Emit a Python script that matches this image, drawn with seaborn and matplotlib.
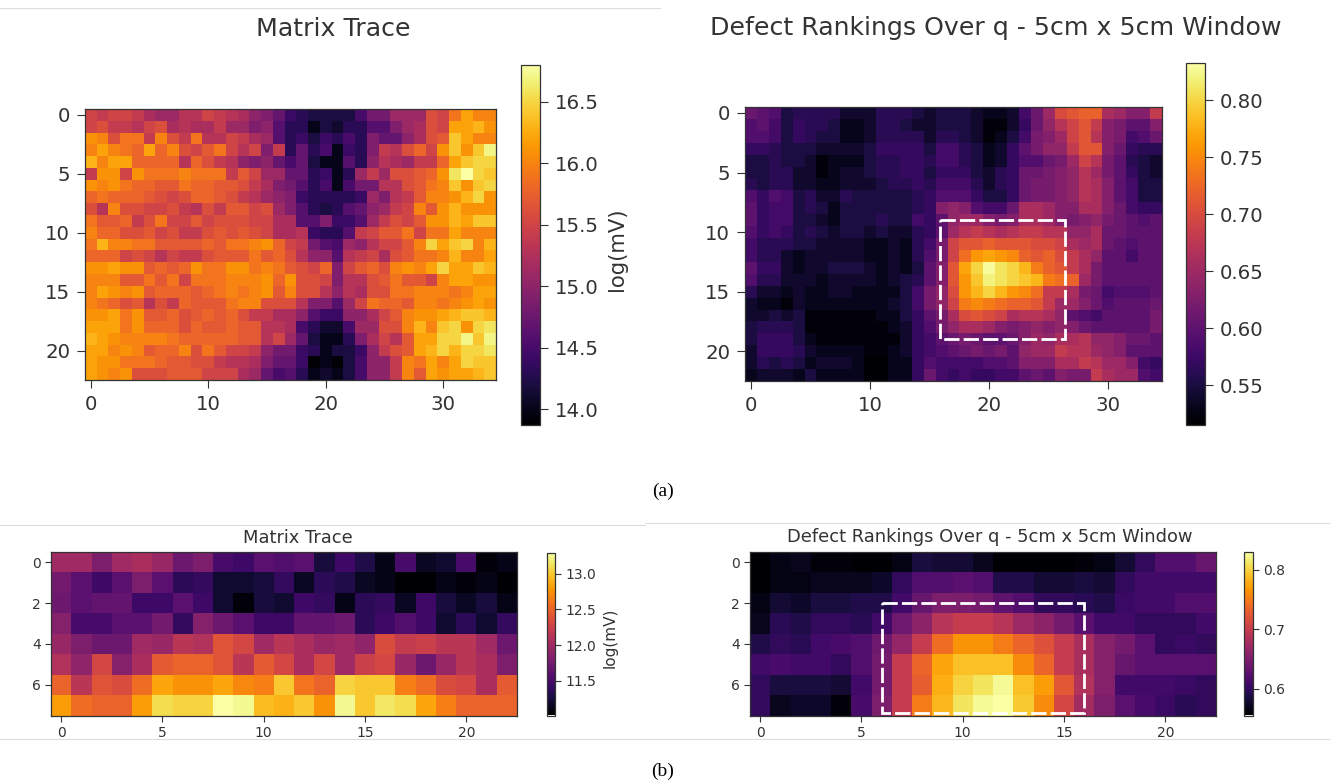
import numpy as np
import matplotlib
matplotlib.use('Agg')
import matplotlib.pyplot as plt
from matplotlib.lines import Line2D
from matplotlib.patches import Rectangle
import seaborn as sns

# values
trace_a = [
    [15.5,15.4,15.5,15.5,15.4,15.2,15.1,15.1,15.3,15.3,15.5,15.4,15.3,15.2,15.0,14.9,14.7,14.4,14.3,14.2,14.2,14.2,14.2,14.5,14.8,14.8,15.1,15.1,15.1,15.6,15.5,15.9,16.2,16.0,16.0],
    [15.5,15.6,15.4,15.4,15.3,15.5,15.6,15.2,15.3,15.2,15.2,15.4,15.1,15.1,14.9,15.0,14.6,14.3,14.3,14.0,14.2,14.1,14.3,14.3,14.6,14.6,14.9,15.1,15.2,15.6,15.5,16.2,16.2,16.3,16.1],
    [16.1,16.0,15.6,15.9,15.9,15.4,16.0,15.6,15.4,15.9,15.3,15.3,15.5,15.4,15.2,15.1,14.6,14.3,14.4,14.2,14.4,14.3,14.5,14.3,14.9,14.7,14.7,15.0,15.2,15.6,15.7,16.4,16.2,16.0,16.0],
    [16.0,16.2,16.0,15.9,15.8,16.2,15.8,16.0,15.6,15.5,15.7,15.9,15.5,15.3,15.5,14.9,15.4,14.3,14.7,14.3,14.5,14.0,14.4,14.3,14.9,15.4,15.3,15.6,15.8,15.5,16.1,16.4,16.1,16.4,16.7],
    [16.3,16.0,16.2,16.2,15.8,15.8,15.8,15.8,15.3,15.8,15.6,15.4,15.3,15.0,14.9,15.0,14.7,14.5,14.7,14.2,14.0,14.0,14.6,14.3,15.0,15.3,15.2,15.1,15.4,15.4,15.8,16.2,16.4,16.5,16.5],
    [15.4,16.1,16.1,15.5,16.1,15.9,15.9,15.9,16.0,15.9,15.9,15.9,15.4,15.7,15.5,15.1,15.1,14.7,14.7,14.3,14.4,14.0,14.3,15.1,15.4,15.1,15.6,15.6,15.7,15.8,16.1,16.6,16.8,16.5,16.4],
    [16.1,16.0,16.1,15.9,15.8,15.8,15.7,15.7,15.9,15.8,15.8,15.7,15.7,15.6,15.4,15.2,14.9,14.8,14.6,14.3,14.5,14.0,14.5,14.8,14.8,15.3,15.3,15.6,15.7,15.9,16.0,16.4,16.1,16.4,16.5],
    [15.8,15.9,15.8,15.8,15.8,15.7,15.6,15.5,15.6,15.8,15.8,15.7,15.6,15.4,15.3,15.1,15.0,14.9,14.4,14.3,14.3,14.3,14.3,14.4,15.1,14.9,15.3,15.4,15.7,16.0,16.0,16.1,16.3,16.5,16.1],
    [15.6,15.3,16.0,15.6,15.6,15.5,15.5,15.6,15.4,15.3,15.6,15.4,15.7,15.7,15.5,15.6,15.1,14.9,14.6,14.3,14.2,14.3,14.6,14.7,15.0,15.1,15.4,15.5,16.0,15.7,16.1,16.3,16.1,16.1,16.1],
    [15.9,15.7,15.7,15.8,15.4,15.6,15.9,15.5,15.5,15.7,15.5,15.6,15.6,15.6,15.5,15.5,15.2,15.2,14.6,14.6,14.9,14.4,14.4,14.6,15.1,15.4,15.6,15.5,15.7,16.1,16.1,16.3,16.2,16.4,16.4],
    [16.0,15.8,15.8,15.6,15.6,15.7,15.5,15.6,15.4,15.4,15.6,15.7,15.6,15.7,15.6,15.5,15.2,15.2,15.3,14.4,14.3,14.3,14.6,15.4,15.5,15.7,15.7,15.9,15.5,15.9,15.9,16.2,16.0,16.0,16.0],
    [15.9,16.3,16.0,16.0,15.9,15.9,15.7,15.7,15.7,15.7,15.8,15.7,15.9,15.9,16.0,16.1,15.8,15.5,15.4,14.8,14.6,14.5,15.1,15.0,15.3,15.5,15.5,15.7,16.0,16.5,16.2,16.4,16.5,16.0,16.3],
    [15.8,15.8,15.8,15.5,15.6,15.5,15.3,15.5,15.4,15.4,15.6,15.7,15.7,15.7,15.9,15.7,15.8,15.6,15.3,15.0,15.0,14.6,15.3,15.4,15.5,15.2,15.6,15.7,15.9,15.9,16.0,16.3,16.0,16.0,16.2],
    [16.1,16.1,16.2,16.1,16.1,15.7,15.8,15.7,15.8,16.1,15.9,15.9,16.1,16.1,15.9,16.0,15.9,15.7,15.6,15.5,15.8,14.9,15.5,15.7,15.8,15.6,16.0,16.1,16.0,16.2,16.5,16.2,16.2,16.4,16.3],
    [16.0,16.0,16.0,15.7,15.7,15.9,15.7,15.9,15.5,15.9,15.9,15.9,16.0,16.0,16.0,16.1,15.8,16.1,15.6,15.6,15.5,14.9,15.3,15.3,15.6,15.7,15.9,15.7,15.7,15.5,16.0,16.2,16.2,16.1,16.1],
    [16.0,16.2,16.1,16.0,16.1,15.7,15.8,15.8,15.8,15.7,15.8,15.9,16.0,15.9,16.0,16.1,15.7,16.0,15.6,15.6,15.3,15.0,15.3,15.2,15.6,15.6,15.9,15.9,16.0,16.0,16.0,15.9,16.0,16.2,16.2],
    [16.0,15.9,15.8,15.6,15.7,15.3,15.6,15.4,15.8,15.7,15.7,15.7,15.9,16.0,16.0,15.6,15.6,15.6,15.3,14.9,14.9,14.6,15.1,15.5,15.9,15.8,15.8,15.7,16.0,16.0,15.9,16.0,16.1,16.2,16.1],
    [16.1,16.1,16.2,15.9,16.1,15.7,15.7,15.8,15.6,15.7,15.8,15.7,15.8,15.6,15.4,15.4,15.2,15.2,15.0,14.6,14.4,14.4,15.0,15.0,15.2,15.5,15.7,16.0,16.1,16.1,16.2,16.3,16.4,16.4,16.3],
    [16.2,16.2,16.2,15.9,16.1,15.8,15.8,15.8,15.6,15.8,15.7,15.7,15.8,15.7,15.7,15.3,15.3,15.2,14.5,14.3,14.1,14.1,14.5,15.1,15.1,15.6,15.6,16.0,16.3,16.0,16.4,16.5,16.1,16.5,16.6],
    [16.3,16.2,16.1,16.0,16.0,16.0,16.0,15.9,15.8,15.8,15.8,15.8,15.8,15.7,15.7,15.3,15.5,15.1,14.7,14.2,14.0,14.0,14.3,14.9,15.2,15.5,15.3,15.7,16.2,16.2,16.5,16.5,16.7,16.4,16.7],
    [16.2,16.2,16.0,16.1,16.0,15.7,15.8,15.8,16.0,15.6,15.9,15.7,15.5,15.5,15.4,15.0,14.8,14.8,14.4,14.3,14.0,14.2,14.2,14.4,15.0,15.4,15.6,15.7,16.2,16.3,16.5,16.3,16.5,16.5,16.6],
    [16.2,16.1,16.1,15.9,15.9,15.9,15.8,15.7,15.7,15.6,15.6,15.4,15.3,15.3,15.2,14.9,14.7,14.7,14.4,13.9,14.0,13.9,14.2,14.5,15.0,15.0,15.4,16.0,15.9,16.2,16.0,16.2,16.5,16.4,16.4],
    [16.2,16.1,16.0,16.1,15.6,15.6,15.6,15.7,15.7,15.7,15.5,15.5,15.5,15.2,15.1,14.7,14.5,14.6,14.3,14.0,14.1,14.0,14.2,14.5,15.0,15.0,15.4,16.0,15.7,16.2,16.1,16.2,16.2,16.3,16.4],
]
rank_a = [
    [.61,.60,.59,.55,.56,.56,.56,.56,.54,.54,.54,.56,.56,.56,.55,.54,.55,.55,.55,.54,.53,.53,.54,.58,.61,.65,.70,.71,.72,.72,.66,.65,.63,.63,.68],
    [.59,.60,.58,.55,.57,.56,.56,.55,.53,.53,.54,.56,.56,.55,.54,.54,.55,.55,.55,.54,.52,.52,.54,.57,.61,.64,.67,.69,.71,.68,.63,.62,.60,.60,.63],
    [.59,.59,.58,.55,.57,.56,.55,.55,.53,.53,.54,.56,.56,.56,.56,.54,.56,.56,.55,.54,.52,.53,.55,.58,.62,.63,.65,.69,.71,.67,.63,.62,.58,.59,.61],
    [.57,.57,.56,.55,.55,.55,.54,.54,.54,.54,.55,.57,.57,.57,.57,.55,.58,.58,.56,.55,.53,.54,.57,.60,.62,.64,.64,.68,.71,.71,.63,.61,.57,.56,.56],
    [.55,.55,.56,.55,.55,.54,.52,.53,.53,.53,.55,.56,.56,.57,.57,.56,.58,.58,.56,.55,.53,.54,.57,.59,.59,.61,.62,.65,.69,.67,.62,.60,.56,.55,.54],
    [.55,.55,.56,.56,.54,.54,.52,.53,.54,.54,.55,.56,.56,.57,.57,.55,.57,.57,.57,.55,.54,.56,.57,.61,.61,.62,.63,.64,.67,.65,.62,.60,.57,.55,.54],
    [.56,.55,.56,.56,.54,.54,.53,.53,.54,.54,.54,.55,.56,.56,.57,.56,.58,.58,.58,.56,.54,.56,.57,.61,.62,.62,.63,.64,.67,.66,.63,.60,.58,.55,.55],
    [.59,.57,.59,.58,.55,.56,.54,.54,.56,.55,.55,.55,.55,.55,.56,.57,.59,.59,.59,.57,.55,.55,.57,.61,.62,.62,.63,.64,.67,.66,.63,.60,.58,.55,.55],
    [.60,.57,.58,.58,.55,.56,.55,.53,.55,.55,.55,.55,.55,.55,.56,.57,.63,.64,.63,.59,.58,.58,.61,.66,.66,.65,.63,.63,.66,.66,.63,.61,.58,.57,.57],
    [.60,.57,.58,.58,.55,.55,.54,.53,.55,.55,.55,.56,.55,.55,.58,.57,.60,.64,.65,.65,.63,.62,.63,.66,.66,.65,.63,.62,.63,.64,.62,.61,.60,.59,.60],
    [.59,.57,.58,.57,.55,.56,.55,.54,.55,.55,.54,.55,.54,.54,.56,.57,.60,.65,.67,.68,.67,.66,.67,.68,.68,.67,.67,.64,.64,.66,.61,.61,.60,.60,.60],
    [.58,.56,.56,.56,.55,.55,.54,.54,.54,.54,.53,.53,.54,.53,.56,.58,.62,.69,.71,.71,.72,.71,.71,.71,.70,.70,.69,.66,.65,.66,.61,.60,.59,.60,.60],
    [.58,.56,.56,.54,.53,.54,.54,.54,.54,.54,.53,.53,.54,.53,.56,.59,.62,.69,.73,.76,.77,.76,.75,.72,.71,.72,.70,.68,.66,.64,.60,.60,.58,.60,.60],
    [.60,.57,.57,.54,.53,.54,.54,.55,.55,.55,.54,.53,.54,.53,.55,.60,.63,.71,.77,.80,.83,.81,.80,.78,.74,.72,.71,.68,.66,.62,.60,.60,.60,.60,.60],
    [.59,.56,.56,.54,.54,.54,.53,.54,.54,.54,.54,.53,.54,.55,.56,.60,.63,.71,.76,.79,.82,.81,.80,.79,.78,.74,.73,.72,.65,.62,.60,.60,.60,.60,.60],
    [.56,.54,.54,.53,.54,.53,.53,.54,.54,.53,.53,.53,.53,.55,.58,.62,.64,.70,.76,.78,.80,.78,.76,.75,.73,.68,.68,.66,.62,.61,.58,.59,.59,.59,.60],
    [.54,.53,.53,.52,.54,.53,.53,.53,.53,.53,.53,.53,.54,.55,.58,.62,.64,.69,.74,.75,.74,.73,.72,.72,.71,.68,.65,.65,.63,.61,.59,.60,.60,.60,.61],
    [.54,.54,.55,.54,.55,.52,.52,.52,.52,.52,.52,.53,.53,.55,.57,.60,.62,.66,.70,.71,.70,.69,.66,.67,.67,.66,.64,.60,.59,.58,.60,.60,.60,.60,.62],
    [.55,.56,.56,.56,.55,.52,.52,.52,.52,.52,.52,.52,.53,.54,.57,.59,.62,.64,.66,.66,.65,.63,.62,.63,.64,.63,.64,.63,.61,.60,.60,.60,.60,.60,.62],
    [.55,.57,.57,.57,.55,.53,.52,.52,.52,.52,.52,.52,.52,.54,.57,.58,.60,.61,.62,.61,.60,.60,.61,.63,.65,.64,.66,.66,.67,.64,.64,.63,.61,.61,.60],
    [.54,.57,.57,.57,.56,.54,.53,.53,.53,.53,.52,.52,.53,.54,.57,.58,.59,.60,.61,.62,.61,.62,.60,.64,.65,.65,.68,.67,.67,.65,.64,.63,.60,.60,.60],
    [.54,.56,.55,.56,.55,.53,.54,.54,.54,.53,.51,.51,.53,.53,.57,.59,.58,.58,.58,.58,.59,.59,.60,.63,.63,.63,.66,.66,.68,.67,.65,.65,.63,.58,.57],
    [.53,.54,.54,.54,.53,.55,.53,.53,.53,.53,.51,.51,.53,.53,.57,.61,.58,.57,.58,.57,.57,.58,.58,.60,.61,.60,.63,.62,.62,.68,.66,.65,.65,.59,.58],
]
trace_b = [
    [12.0,12.0,11.8,12.0,12.05,11.95,11.7,11.8,11.5,11.45,11.6,11.55,11.6,11.25,11.45,11.3,11.1,11.5,11.15,11.2,11.5,11.05,11.1],
    [11.75,11.6,11.45,11.6,11.8,11.6,11.35,11.4,11.2,11.2,11.25,11.4,11.15,11.35,11.3,11.15,11.1,11.0,11.0,11.1,11.05,11.1,11.0],
    [11.7,11.6,11.65,11.65,11.45,11.45,11.6,11.45,11.2,11.05,11.25,11.2,11.45,11.4,11.1,11.35,11.4,11.15,11.45,11.25,11.15,11.25,11.1],
    [11.85,11.5,11.5,11.6,11.6,11.75,11.4,11.85,11.7,11.6,11.45,11.45,11.65,11.65,11.7,11.35,11.45,11.55,11.45,11.2,11.35,11.2,11.4],
    [11.95,11.8,11.7,11.7,12.0,11.95,12.15,12.1,12.4,12.3,12.0,12.15,12.05,11.95,12.0,11.9,12.35,12.2,12.25,12.15,12.15,12.0,11.7],
    [12.1,11.9,12.3,11.85,12.05,12.45,12.5,12.5,12.4,12.15,12.45,12.3,12.05,12.3,12.0,12.25,12.3,11.95,11.7,11.95,12.15,12.05,11.8],
    [12.5,12.15,12.4,12.35,12.55,12.85,12.75,12.75,12.85,12.7,12.65,13.0,12.6,12.5,13.05,13.0,13.0,12.65,12.55,12.35,12.3,12.05,12.45],
    [12.8,12.55,12.5,12.5,12.8,13.1,13.05,13.05,13.3,13.25,12.95,12.9,13.0,12.75,13.25,13.0,13.15,13.1,12.85,12.65,12.5,12.5,12.5],
]
rank_b = [
    [.555,.565,.57,.56,.56,.555,.555,.565,.585,.58,.58,.57,.555,.555,.555,.555,.56,.565,.58,.60,.62,.62,.635],
    [.555,.565,.565,.57,.57,.57,.575,.60,.62,.62,.625,.62,.59,.59,.58,.58,.585,.58,.60,.61,.61,.61,.61],
    [.565,.58,.575,.585,.585,.59,.59,.61,.635,.65,.65,.645,.63,.62,.60,.60,.595,.59,.605,.61,.61,.62,.62],
    [.57,.595,.59,.60,.60,.595,.61,.64,.66,.69,.70,.70,.69,.67,.66,.645,.625,.61,.61,.60,.60,.60,.61],
    [.59,.60,.595,.61,.615,.62,.64,.665,.70,.74,.765,.765,.75,.735,.72,.70,.68,.655,.645,.625,.60,.605,.60],
    [.61,.615,.61,.61,.60,.62,.645,.70,.735,.775,.79,.79,.79,.76,.735,.70,.68,.655,.635,.625,.625,.625,.625],
    [.60,.585,.585,.585,.58,.61,.645,.70,.73,.78,.80,.81,.825,.79,.77,.725,.685,.655,.61,.61,.61,.605,.60],
    [.60,.57,.575,.575,.56,.615,.65,.70,.75,.785,.81,.825,.83,.795,.76,.71,.675,.65,.625,.615,.605,.595,.60],
]

W, H = 1330, 781
sns.set_theme(style='white')
plt.rcParams['font.family'] = ['DejaVu Sans']
fig = plt.figure(figsize=(W / 100, H / 100), dpi=100, facecolor='white')

def box(left, top, right, bottom):
    # pixel box to figure fractions
    return [left / W, 1 - bottom / H, (right - left) / W, (bottom - top) / H]

def panel(data, ax_box, cax_box, vmin, vmax, title, title_pos, title_size, tick_size,
          xticks, yticks, cticks, cfmt, label=None, label_size=10, label_y=0.5, label_pad=3, rect=None, lw=2):
    ax = fig.add_axes(box(*ax_box))
    cax = fig.add_axes(box(*cax_box))
    sns.heatmap(np.array(data), ax=ax, cbar_ax=cax, cmap='inferno', vmin=vmin, vmax=vmax,
                xticklabels=False, yticklabels=False)
    ax.set_xticks(np.array(xticks) + 0.5, labels=[str(t) for t in xticks], rotation=0)
    ax.set_yticks(np.array(yticks) + 0.5, labels=[str(t) for t in yticks], rotation=0)
    ax.tick_params(left=True, bottom=True, labelsize=tick_size, colors='#333333',
                   length=tick_size * 0.4, width=0.8, pad=tick_size * 0.35)
    for s in ax.spines.values():
        s.set_visible(True)
        s.set_color('#333333')
        s.set_linewidth(0.9)
    cb = ax.collections[0].colorbar
    cb.set_ticks(cticks, labels=[cfmt % t for t in cticks])
    cb.outline.set_visible(True)
    cb.outline.set_linewidth(0.9)
    cb.outline.set_edgecolor('#333333')
    cax.tick_params(right=True, labelsize=tick_size, colors='#333333',
                    length=tick_size * 0.4, width=0.8, pad=tick_size * 0.35)
    if label:
        cb.set_label(label, fontsize=label_size, color='#333333', labelpad=label_pad, y=label_y)
    if rect:
        ax.add_patch(Rectangle((rect[0], rect[1]), rect[2], rect[3], fill=False, edgecolor='white',
                               linewidth=lw, linestyle=(0, (5.5, 1.5)), zorder=5, clip_on=False))
    fig.text(title_pos[0] / W, 1 - title_pos[1] / H, title, ha='center', va='center',
             fontsize=title_size, color='#333333')

panel(trace_a, (85, 109, 496, 380), (521, 65, 540, 425), 13.87, 16.8, 'Matrix Trace', (333, 29), 18.2, 14.2,
      [0, 10, 20, 30], [0, 5, 10, 15, 20], [14, 14.5, 15, 15.5, 16, 16.5], '%.1f',
      label='log(mV)', label_size=15.2, label_y=0.489, label_pad=6)
panel(rank_a, (745, 107, 1162, 381), (1186, 63, 1205, 425), 0.515, 0.8325,
      'Defect Rankings Over q - 5cm x 5cm Window', (996, 28), 18.2, 14.2,
      [0, 10, 20, 30], [0, 5, 10, 15, 20], [.55, .60, .65, .70, .75, .80], '%.2f',
      rect=(16.4, 9.5, 10.5, 10))
panel(trace_b, (51, 552, 517, 715.5), (547, 552.5, 555, 715.5), 11.01, 13.3, 'Matrix Trace', (298, 538), 12.9, 10,
      [0, 5, 10, 15, 20], [0, 2, 4, 6], [11.5, 12, 12.5, 13], '%.1f',
      label='log(mV)', label_size=11, label_y=0.478, label_pad=4.5)
panel(rank_b, (750, 552, 1216, 715.5), (1244, 552, 1253, 715.5), 0.555, 0.83,
      'Defect Rankings Over q - 5cm x 5cm Window', (990, 537), 12.9, 10,
      [0, 5, 10, 15, 20], [0, 2, 4, 6], [.6, .7, .8], '%.1f',
      rect=(6.5, 2.5, 10, 5.4))

# sub captions and the thin grey rules from the source document
fig.text(663 / W, 1 - 491 / H, '(a)', ha='center', va='center', fontsize=14, family='Liberation Serif', color='black')
fig.text(663 / W, 1 - 771 / H, '(b)', ha='center', va='center', fontsize=14, family='Liberation Serif', color='black')
for x0, x1, y in [(0, 660, 8), (0, 645, 525), (645, 1330, 523), (0, 1330, 739)]:
    fig.add_artist(Line2D([x0 / W, x1 / W], [1 - y / H, 1 - y / H], color='#dddddd', lw=0.8))

fig.savefig('out.png', dpi=100)
